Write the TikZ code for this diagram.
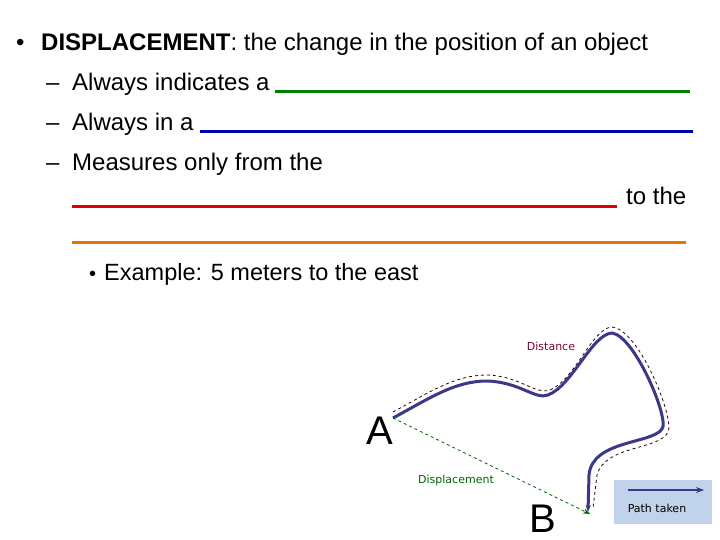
\documentclass[tikz,border=0pt]{standalone}
\usepackage{fontspec}
\setmainfont{Liberation Sans}
\newfontfamily\vfont{DejaVu Sans}
\usetikzlibrary{arrows.meta}
\definecolor{pathc}{RGB}{58,56,135}
\begin{document}
\begin{tikzpicture}[x=1pt,y=-1pt,
  txt/.style={anchor=base west,inner sep=0pt,font=\fontsize{24}{28}\selectfont},
  blank/.style={line width=3pt},
  small/.style={inner sep=0pt,font=\vfont\fontsize{11}{13}\selectfont}]
\useasboundingbox (0,0) rectangle (720,540);
\node[txt] (m1) at (16,51) {•};
\node[txt] (b1) at (41,51) {\textbf{DISPLACEMENT}: the change in the position of an object};
\node[txt] (m2) at (46,91) {–};
\node[txt] (d1) at (72,91) {Always indicates a};
\node[txt] (m3) at (46,131) {–};
\node[txt] (d2) at (72,131) {Always in a};
\node[txt] (m4) at (46,171) {–};
\node[txt] (d3) at (72,171) {Measures only from the};
\node[txt] (tt) at (626,205) {to the};
\node[txt,font=\fontsize{20}{24}\selectfont] (m5) at (89,280) {•};
\node[txt,font=\fontsize{23.5}{28}\selectfont] (ex) at (104,280) {Example: 5 meters to the east};
\coordinate (g1) at (275,92); \coordinate (g2) at (690,92);
\coordinate (u1) at (200,132); \coordinate (u2) at (693,132);
\coordinate (r1) at (72,207); \coordinate (r2) at (617,207);
\coordinate (o1) at (72,242); \coordinate (o2) at (686,242);
\draw[blank,green!50!black] (g1)--(g2);
\draw[blank,blue!70!black] (u1)--(u2);
\draw[blank,red!90!black] (r1)--(r2);
\draw[blank,orange!90!black] (o1)--(o2);
% picture
\coordinate (A0) at (393,418);
\coordinate (B0) at (590,514);
\draw[dashed,thick,black!75!purple] (393,412) .. controls (430,392) and (455,375) .. (487,375)
  .. controls (520,376) and (535,395) .. (550,390)
  .. controls (575,380) and (592,328) .. (612,327)
  .. controls (640,330) and (675,420) .. (668,432)
  .. controls (660,450) and (605,445) .. (597,475) -- (593,508);
\draw[line width=3pt,pathc,-{Stealth[length=7pt]}] (A0) .. controls (430,398) and (455,381) .. (487,381)
  .. controls (520,382) and (535,400) .. (548,395)
  .. controls (572,386) and (592,334) .. (612,333)
  .. controls (635,336) and (670,420) .. (662,429)
  .. controls (652,444) and (592,440) .. (589,475) -- (588,512);
\draw[dashed,thick,green!40!black,-{Stealth[length=7pt]}] (A0) -- (B0);
\node[font=\fontsize{40}{40}\selectfont,inner sep=0pt] (A) at (380,431) {A};
\node[font=\fontsize{40}{40}\selectfont,inner sep=0pt] (B) at (543,519) {B};
\node[small,text=purple!70!black] (dl) at (551,346) {Distance};
\node[small,text=green!40!black] (dpl) at (456,480) {Displacement};
\node[fill={rgb,255:red,192;green,211;blue,234},minimum width=98pt,minimum height=44pt,inner sep=0pt] (box) at (663,502) {};
\node[small] (pt) at (657,508) {Path taken};
\coordinate (p1) at (628,490); \coordinate (p2) at (704,490);
\draw[line width=2.5pt,pathc,-{Stealth[length=8pt]}] (p1) -- (p2);
\end{tikzpicture}
\end{document}
